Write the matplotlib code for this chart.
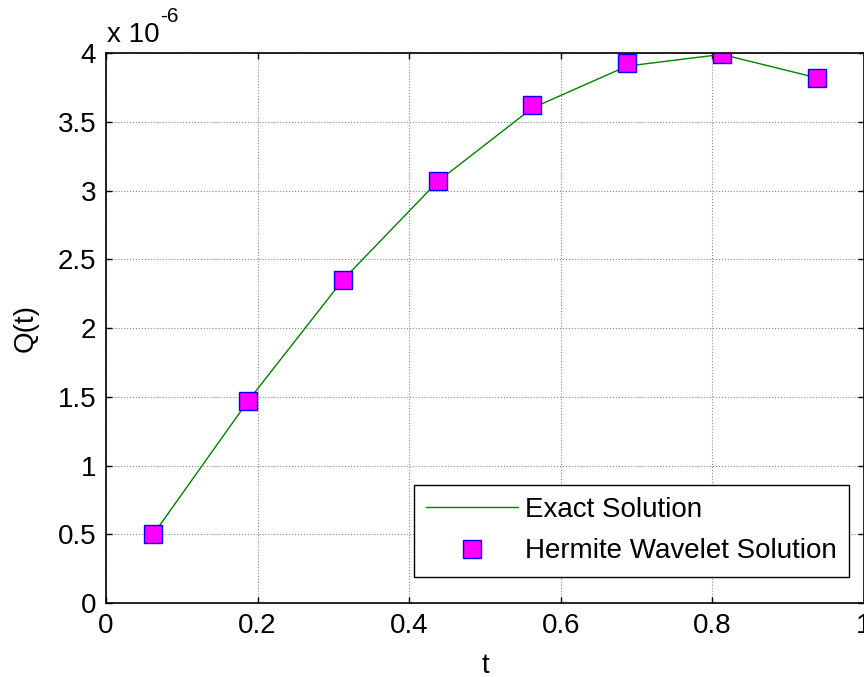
import numpy as np
import matplotlib.pyplot as plt

plt.rcParams['font.family'] = ['Liberation Sans', 'DejaVu Sans']

# collocation points and solutions (units of 1e-6)
t = [0.0625, 0.1875, 0.3125, 0.4375, 0.5625, 0.6875, 0.8125, 0.9375]
q_exact = [0.50, 1.47, 2.35, 3.065, 3.60, 3.905, 3.99, 3.82]
q_hermite = [0.50, 1.47, 2.35, 3.07, 3.62, 3.93, 3.99, 3.82]
x_ticks = [0, 0.2, 0.4, 0.6, 0.8, 1]
y_ticks = [0, 0.5, 1, 1.5, 2, 2.5, 3, 3.5, 4]

fig = plt.figure(figsize=(8.64, 6.77), dpi=100)
ax = fig.add_axes([0.1227, 0.1093, 0.8773, 0.8124])

ax.plot(t, q_exact, color=(0, 0.5, 0), lw=1, label='Exact Solution')
ax.plot(t, q_hermite, ls='none', marker='s', ms=13, mfc='magenta', mec='blue',
        mew=1, label='Hermite Wavelet Solution')

ax.set_xlim(0, 1)
ax.set_ylim(0, 4)
ax.set_xticks(x_ticks)
ax.set_xticklabels(['0', '0.2', '0.4', '0.6', '0.8', '1'])
ax.set_yticks(y_ticks)
ax.set_yticklabels(['0', '0.5', '1', '1.5', '2', '2.5', '3', '3.5', '4'])
ax.tick_params(direction='in', top=True, right=True, labelsize=20, length=4, width=1, pad=7)
ax.grid(True, color='#888888', ls=':', lw=0.8)
for s in ax.spines.values():
    s.set_linewidth(1.2)

ax.set_xlabel('t', fontsize=20, labelpad=10)
ax.set_ylabel('Q(t)', fontsize=20, labelpad=14)

fig.text(107 / 864, 1 - 42 / 677, 'x 10', fontsize=20, va='baseline')
fig.text(160 / 864, 1 - 22 / 677, '-6', fontsize=15, va='baseline')

leg = ax.legend(loc='lower right', bbox_to_anchor=(0.9805, 0.0473), fontsize=20,
                fancybox=False, framealpha=1, edgecolor='black', borderpad=0.45,
                handlelength=3.3, handletextpad=0.25, labelspacing=0.55, borderaxespad=0)
leg.get_frame().set_linewidth(1)

fig.savefig('out.png', dpi=100)
